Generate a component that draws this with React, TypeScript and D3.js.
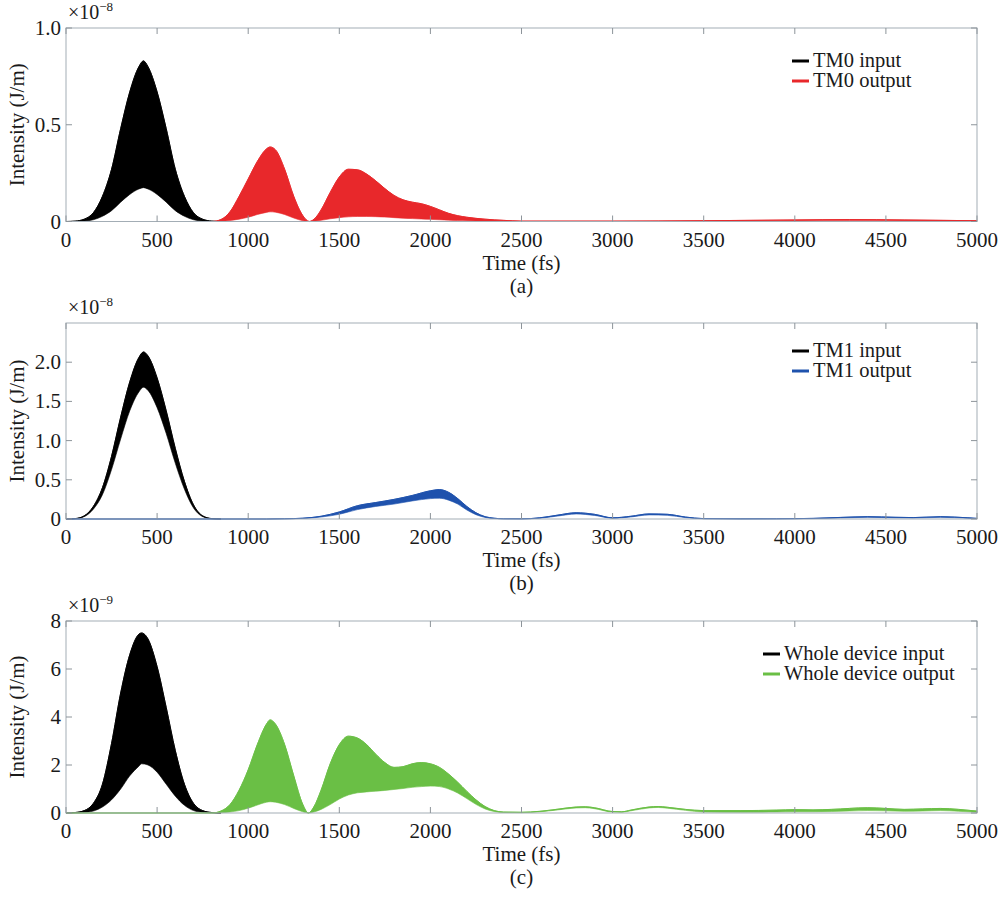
import React, { useEffect, useRef } from 'react';
import * as d3 from 'd3';

const timeTicks = [0, 500, 1000, 1500, 2000, 2500, 3000, 3500, 4000, 4500, 5000];

// panel (a): TM0
const tm0InTime = [0, 50, 100, 150, 200, 250, 300, 350, 400, 425, 450, 500, 550, 600, 650, 700, 750, 800, 850];
const tm0InUpper = [0, 0.002, 0.012, 0.045, 0.13, 0.27, 0.48, 0.67, 0.8, 0.83, 0.8, 0.67, 0.48, 0.27, 0.13, 0.045, 0.012, 0.002, 0];
const tm0InLower = [0, 0, 0.002, 0.009, 0.027, 0.056, 0.1, 0.14, 0.168, 0.175, 0.168, 0.14, 0.1, 0.056, 0.027, 0.009, 0.002, 0, 0];

const tm0OutTime = [0, 800, 850, 900, 950, 1000, 1050, 1100, 1120, 1150, 1200, 1250, 1300, 1335, 1370, 1400, 1450, 1500, 1550, 1600, 1650, 1700, 1750, 1800, 1850, 1900, 1950, 2000, 2050, 2100, 2150, 2200, 2300, 2400, 2500, 3000, 3500, 4000, 4300, 4600, 5000];
const tm0OutUpper = [0, 0, 0.01, 0.05, 0.13, 0.22, 0.31, 0.375, 0.385, 0.37, 0.27, 0.13, 0.03, 0, 0.02, 0.06, 0.15, 0.23, 0.27, 0.267, 0.245, 0.21, 0.17, 0.135, 0.112, 0.1, 0.092, 0.078, 0.06, 0.042, 0.03, 0.022, 0.012, 0.006, 0.002, 0.002, 0.004, 0.008, 0.01, 0.008, 0.004];
const tm0OutLower = [0, 0, 0.001, 0.005, 0.012, 0.022, 0.036, 0.047, 0.05, 0.048, 0.036, 0.018, 0.004, 0, 0.002, 0.006, 0.014, 0.02, 0.024, 0.026, 0.026, 0.025, 0.023, 0.02, 0.017, 0.015, 0.013, 0.011, 0.009, 0.007, 0.005, 0.004, 0.002, 0.001, 0.0005, 0.0005, 0.002, 0.004, 0.005, 0.004, 0.002];

// panel (b): TM1
const tm1InTime = [0, 50, 100, 150, 200, 250, 300, 350, 400, 425, 450, 500, 550, 600, 650, 700, 750, 800, 850];
const tm1InUpper = [0, 0.005, 0.04, 0.16, 0.4, 0.8, 1.3, 1.75, 2.06, 2.13, 2.08, 1.8, 1.38, 0.9, 0.48, 0.18, 0.04, 0.005, 0];
const tm1InLower = [0, 0.004, 0.03, 0.125, 0.31, 0.63, 1.02, 1.38, 1.62, 1.68, 1.64, 1.42, 1.09, 0.71, 0.38, 0.14, 0.03, 0.004, 0];

const tm1OutTime = [0, 1100, 1200, 1300, 1400, 1500, 1600, 1700, 1800, 1900, 2000, 2050, 2100, 2150, 2200, 2250, 2300, 2350, 2400, 2500, 2600, 2700, 2800, 2900, 3000, 3100, 3200, 3300, 3400, 3500, 3700, 3900, 4100, 4250, 4400, 4550, 4650, 4800, 4950, 5000];
const tm1OutUpper = [0, 0, 0.003, 0.01, 0.035, 0.09, 0.17, 0.21, 0.25, 0.3, 0.36, 0.375, 0.34, 0.26, 0.16, 0.08, 0.03, 0.01, 0.003, 0.002, 0.015, 0.05, 0.08, 0.06, 0.015, 0.035, 0.065, 0.06, 0.025, 0.005, 0.002, 0.003, 0.008, 0.02, 0.03, 0.022, 0.018, 0.03, 0.015, 0.008];
const tm1OutLower = [0, 0, 0.002, 0.007, 0.025, 0.06, 0.12, 0.16, 0.19, 0.23, 0.26, 0.265, 0.24, 0.19, 0.115, 0.055, 0.02, 0.006, 0.002, 0.001, 0.01, 0.038, 0.064, 0.046, 0.01, 0.026, 0.052, 0.047, 0.018, 0.003, 0.001, 0.002, 0.005, 0.013, 0.021, 0.015, 0.012, 0.021, 0.01, 0.005];

// panel (c): whole device
const wholeInTime = [0, 50, 100, 150, 200, 250, 300, 350, 400, 415, 450, 500, 550, 600, 650, 700, 750, 800, 850];
const wholeInUpper = [0, 0.02, 0.1, 0.4, 1.2, 2.9, 5.0, 6.6, 7.45, 7.5, 7.25, 6.1, 4.4, 2.6, 1.2, 0.4, 0.1, 0.02, 0];
const wholeInLower = [0, 0.003, 0.02, 0.08, 0.25, 0.55, 1.0, 1.55, 1.95, 2.05, 2.0, 1.7, 1.2, 0.7, 0.32, 0.1, 0.025, 0.005, 0];

const wholeOutTime = [0, 800, 850, 900, 950, 1000, 1050, 1100, 1120, 1150, 1200, 1250, 1300, 1330, 1360, 1400, 1450, 1500, 1550, 1600, 1650, 1700, 1750, 1800, 1850, 1900, 1950, 2000, 2050, 2100, 2150, 2200, 2250, 2300, 2350, 2400, 2500, 2600, 2700, 2800, 2850, 2900, 3000, 3050, 3100, 3200, 3250, 3300, 3400, 3500, 3700, 3900, 4000, 4100, 4200, 4400, 4500, 4600, 4700, 4800, 4900, 5000];
const wholeOutUpper = [0, 0, 0.08, 0.35, 0.95, 1.8, 2.85, 3.7, 3.88, 3.7, 2.85, 1.55, 0.35, 0, 0.25, 0.95, 2.05, 2.85, 3.2, 3.12, 2.85, 2.45, 2.1, 1.9, 1.93, 2.05, 2.1, 2.05, 1.9, 1.62, 1.28, 0.9, 0.55, 0.27, 0.1, 0.04, 0.03, 0.07, 0.16, 0.25, 0.26, 0.22, 0.06, 0.05, 0.12, 0.25, 0.27, 0.24, 0.15, 0.1, 0.1, 0.12, 0.14, 0.13, 0.15, 0.22, 0.19, 0.15, 0.17, 0.19, 0.15, 0.08];
const wholeOutLower = [0, 0, 0.01, 0.04, 0.1, 0.2, 0.33, 0.45, 0.47, 0.45, 0.35, 0.19, 0.05, 0, 0.04, 0.15, 0.35, 0.58, 0.75, 0.84, 0.88, 0.91, 0.94, 0.98, 1.02, 1.07, 1.1, 1.12, 1.1, 1.0, 0.83, 0.6, 0.36, 0.17, 0.06, 0.02, 0.015, 0.05, 0.13, 0.21, 0.22, 0.18, 0.04, 0.035, 0.09, 0.21, 0.23, 0.2, 0.11, 0.04, 0.03, 0.04, 0.05, 0.05, 0.06, 0.1, 0.09, 0.07, 0.08, 0.1, 0.07, 0.03];

const FONT = 'Liberation Serif, Times New Roman, DejaVu Serif, serif';
const LEFT = 66;
const RIGHT = 977;

const panels = [
  {
    top: 28, bottom: 221.5, yMax: 1.0, yTicks: [0, 0.5, 1.0], exp: '\u22128', letter: '(a)',
    legendX: 792, legendY: 61,
    series: [
      { name: 'TM0 input', color: '#000000', time: tm0InTime, upper: tm0InUpper, lower: tm0InLower },
      { name: 'TM0 output', color: '#e8282b', time: tm0OutTime, upper: tm0OutUpper, lower: tm0OutLower },
    ],
  },
  {
    top: 323, bottom: 519, yMax: 2.5, yTicks: [0, 0.5, 1.0, 1.5, 2.0], exp: '\u22128', letter: '(b)',
    legendX: 792, legendY: 351,
    series: [
      { name: 'TM1 input', color: '#000000', time: tm1InTime, upper: tm1InUpper, lower: tm1InLower },
      { name: 'TM1 output', color: '#1f52ad', time: tm1OutTime, upper: tm1OutUpper, lower: tm1OutLower },
    ],
  },
  {
    top: 621, bottom: 813, yMax: 8, yTicks: [0, 2, 4, 6, 8], exp: '\u22129', letter: '(c)',
    legendX: 763, legendY: 654,
    series: [
      { name: 'Whole device input', color: '#000000', time: wholeInTime, upper: wholeInUpper, lower: wholeInLower },
      { name: 'Whole device output', color: '#6abf45', time: wholeOutTime, upper: wholeOutUpper, lower: wholeOutLower },
    ],
  },
];

function drawPanel(svg: any, p: any) {
  const g = svg.append('g').attr('font-family', FONT).attr('fill', '#1a1a1a');
  const x = d3.scaleLinear().domain([0, 5000]).range([LEFT, RIGHT]);
  const y = d3.scaleLinear().domain([0, p.yMax]).range([p.bottom, p.top]);

  const area = d3.area<any>()
    .x((d) => x(d.t))
    .y0((d) => y(d.lo))
    .y1((d) => y(d.hi))
    .curve(d3.curveMonotoneX);
  const line = d3.line<any>().x((d) => x(d.t)).y((d) => y(d.hi)).curve(d3.curveMonotoneX);

  p.series.forEach((s: any) => {
    const pts = s.time.map((t: number, i: number) => ({ t, hi: s.upper[i], lo: s.lower[i] }));
    g.append('path').attr('d', area(pts)).attr('fill', s.color).attr('stroke', s.color).attr('stroke-width', 0.6);
    g.append('path').attr('d', line(pts)).attr('fill', 'none').attr('stroke', s.color).attr('stroke-width', 1);
  });

  // frame
  g.append('rect')
    .attr('x', LEFT).attr('y', p.top)
    .attr('width', RIGHT - LEFT).attr('height', p.bottom - p.top)
    .attr('fill', 'none').attr('stroke', '#a3adb5').attr('stroke-width', 1);

  // ticks inward on all four sides
  timeTicks.forEach((t) => {
    g.append('line').attr('x1', x(t)).attr('x2', x(t)).attr('y1', p.bottom).attr('y2', p.bottom - 6).attr('stroke', '#8d949a');
    g.append('line').attr('x1', x(t)).attr('x2', x(t)).attr('y1', p.top).attr('y2', p.top + 6).attr('stroke', '#8d949a');
    g.append('text').attr('x', x(t)).attr('y', p.bottom + 25).attr('text-anchor', 'middle')
      .attr('font-size', 21).text(String(t));
  });
  p.yTicks.forEach((v: number) => {
    g.append('line').attr('x1', LEFT).attr('x2', LEFT + 6).attr('y1', y(v)).attr('y2', y(v)).attr('stroke', '#8d949a');
    g.append('line').attr('x1', RIGHT).attr('x2', RIGHT - 6).attr('y1', y(v)).attr('y2', y(v)).attr('stroke', '#8d949a');
    const label = v === 0 ? '0' : p.yMax === 8 ? String(v) : v.toFixed(1);
    g.append('text').attr('x', LEFT - 5).attr('y', y(v) + 7).attr('text-anchor', 'end')
      .attr('font-size', 21).text(label);
  });

  // exponent
  const ex = g.append('text').attr('x', 68).attr('y', p.top - 9).attr('font-size', 20);
  ex.append('tspan').text('\u00d710');
  ex.append('tspan').attr('dy', -8).attr('font-size', 13).text(p.exp);

  // axis titles
  g.append('text')
    .attr('transform', `translate(24, ${(p.top + p.bottom) / 2}) rotate(-90)`)
    .attr('text-anchor', 'middle')
    .attr('font-size', 21)
    .text('Intensity (J/m)');
  g.append('text').attr('x', (LEFT + RIGHT) / 2).attr('y', p.bottom + 48).attr('text-anchor', 'middle')
    .attr('font-size', 21).text('Time (fs)');
  g.append('text').attr('x', (LEFT + RIGHT) / 2).attr('y', p.bottom + 71).attr('text-anchor', 'middle')
    .attr('font-size', 21).text(p.letter);

  // legend
  p.series.forEach((s: any, i: number) => {
    const ly = p.legendY + i * 20;
    g.append('line').attr('x1', p.legendX).attr('x2', p.legendX + 17).attr('y1', ly).attr('y2', ly)
      .attr('stroke', s.color).attr('stroke-width', 3);
    g.append('text').attr('x', p.legendX + 21).attr('y', ly + 6)
      .attr('font-size', 20.5).text(s.name);
  });
}

export default function App() {
  const ref = useRef<SVGSVGElement>(null);
  useEffect(() => {
    const svg = d3.select(ref.current);
    svg.selectAll('*').remove();
    panels.forEach((p) => drawPanel(svg, p));
  }, []);
  return (
    <svg
      ref={ref}
      width={1002}
      height={900}
      style={{ position: 'absolute', left: 0, top: 0, background: '#ffffff' }}
    />
  );
}
